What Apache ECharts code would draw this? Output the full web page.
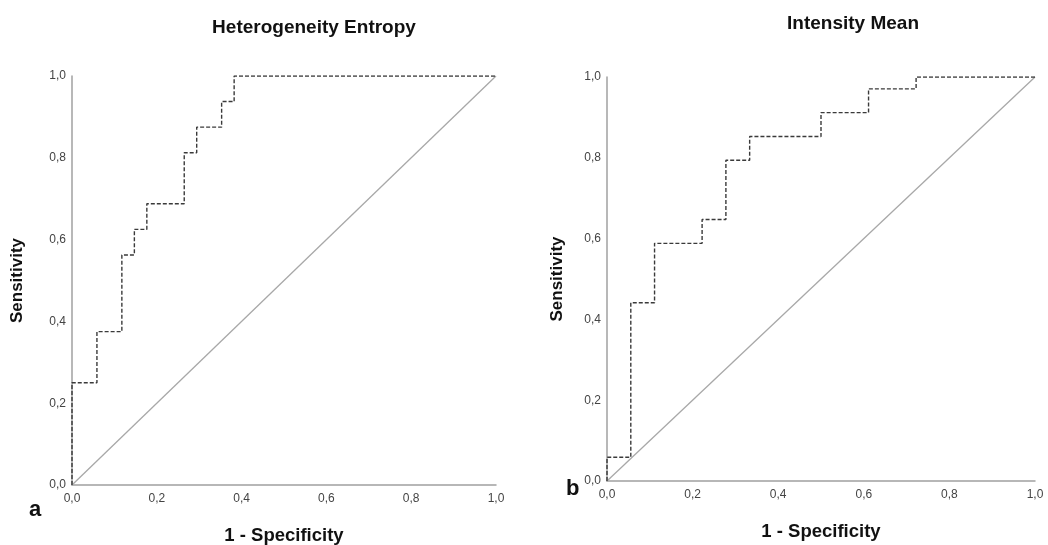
<!DOCTYPE html>
<html><head><meta charset="utf-8">
<script src="https://cdn.jsdelivr.net/npm/echarts@6/dist/echarts.min.js"></script>
<style>html,body{margin:0;padding:0;background:#fff}#c{width:1048px;height:545px}</style>
</head><body><div id="c"></div>
<script>
// ROC step corners (1 - specificity, sensitivity)
const entropyFpr = [0, 0, 0.0588, 0.1176, 0.1471, 0.1765, 0.2647, 0.2941, 0.3529, 0.3824, 1];
const entropyTpr = [0, 0.25, 0.375, 0.5625, 0.625, 0.6875, 0.8125, 0.875, 0.9375, 1, 1];
const meanFpr = [0, 0, 0.0556, 0.1111, 0.2222, 0.2778, 0.3333, 0.5, 0.6111, 0.7222, 1];
const meanTpr = [0, 0.0588, 0.4412, 0.5882, 0.6471, 0.7941, 0.8529, 0.9118, 0.9706, 1, 1];
const diagonal = [[0, 0], [1, 1]];
const titles = ['Heterogeneity Entropy', 'Intensity Mean'];
const panelLetters = ['a', 'b'];
const xName = '1 - Specificity';
const yName = 'Sensitivity';

const zip = (a, b) => a.map((v, i) => [v, b[i]]);
const fmt = v => v.toFixed(1).replace('.', ',');
const font = 'Liberation Sans, Arial, sans-serif';

function xAxis(gi, gap) {
  return {
    gridIndex: gi, type: 'value', min: 0, max: 1, interval: 0.2,
    name: xName, nameLocation: 'middle', nameGap: gap,
    nameTextStyle: { fontFamily: font, fontWeight: 'bold', fontSize: 18.5, color: '#111' },
    axisLine: { lineStyle: { color: '#a0a0a0', width: 1.5 } },
    axisTick: { show: false }, splitLine: { show: false },
    axisLabel: { formatter: fmt, fontFamily: font, fontSize: 12, color: '#444', margin: 8 }
  };
}
function yAxis(gi, gap) {
  return {
    gridIndex: gi, type: 'value', min: 0, max: 1, interval: 0.2,
    name: yName, nameLocation: 'middle', nameGap: gap, nameRotate: 90,
    nameTextStyle: { fontFamily: font, fontWeight: 'bold', fontSize: 17, color: '#111' },
    axisLine: { show: true, lineStyle: { color: '#a0a0a0', width: 1.5 } },
    axisTick: { show: false }, splitLine: { show: false },
    axisLabel: { formatter: fmt, fontFamily: font, fontSize: 12, color: '#444', margin: 6 }
  };
}
const rocStyle = { color: '#3a3a3a', width: 1.4, type: [4, 2] };
const diagStyle = { color: '#a8a8a8', width: 1.3 };

const chart = echarts.init(document.getElementById('c'));
chart.setOption({
  animation: false,
  title: [
    { text: titles[0], left: 309, top: 13, textAlign: 'center',
      textStyle: { fontFamily: font, fontWeight: 'bold', fontSize: 19, color: '#111' } },
    { text: titles[1], left: 848, top: 9, textAlign: 'center',
      textStyle: { fontFamily: font, fontWeight: 'bold', fontSize: 19, color: '#111' } }
  ],
  grid: [
    { left: 72, right: 552, top: 76, bottom: 60, outerBoundsMode: 'none', containLabel: false },
    { left: 607, right: 13, top: 77, bottom: 64, outerBoundsMode: 'none', containLabel: false }
  ],
  xAxis: [xAxis(0, 41), xAxis(1, 41)],
  yAxis: [yAxis(0, 46), yAxis(1, 41)],
  graphic: [
    { type: 'text', left: 29, top: 499, style: { text: panelLetters[0], font: 'bold 22px ' + font, fill: '#111' } },
    { type: 'text', left: 566, top: 478, style: { text: panelLetters[1], font: 'bold 22px ' + font, fill: '#111' } }
  ],
  series: [
    { type: 'line', xAxisIndex: 0, yAxisIndex: 0, data: diagonal, symbol: 'none', lineStyle: diagStyle, z: 2 },
    { type: 'line', xAxisIndex: 0, yAxisIndex: 0, data: zip(entropyFpr, entropyTpr), step: 'end', symbol: 'none', lineStyle: rocStyle, z: 3 },
    { type: 'line', xAxisIndex: 1, yAxisIndex: 1, data: diagonal, symbol: 'none', lineStyle: diagStyle, z: 2 },
    { type: 'line', xAxisIndex: 1, yAxisIndex: 1, data: zip(meanFpr, meanTpr), step: 'end', symbol: 'none', lineStyle: rocStyle, z: 3 }
  ]
});
</script>
</body></html>
